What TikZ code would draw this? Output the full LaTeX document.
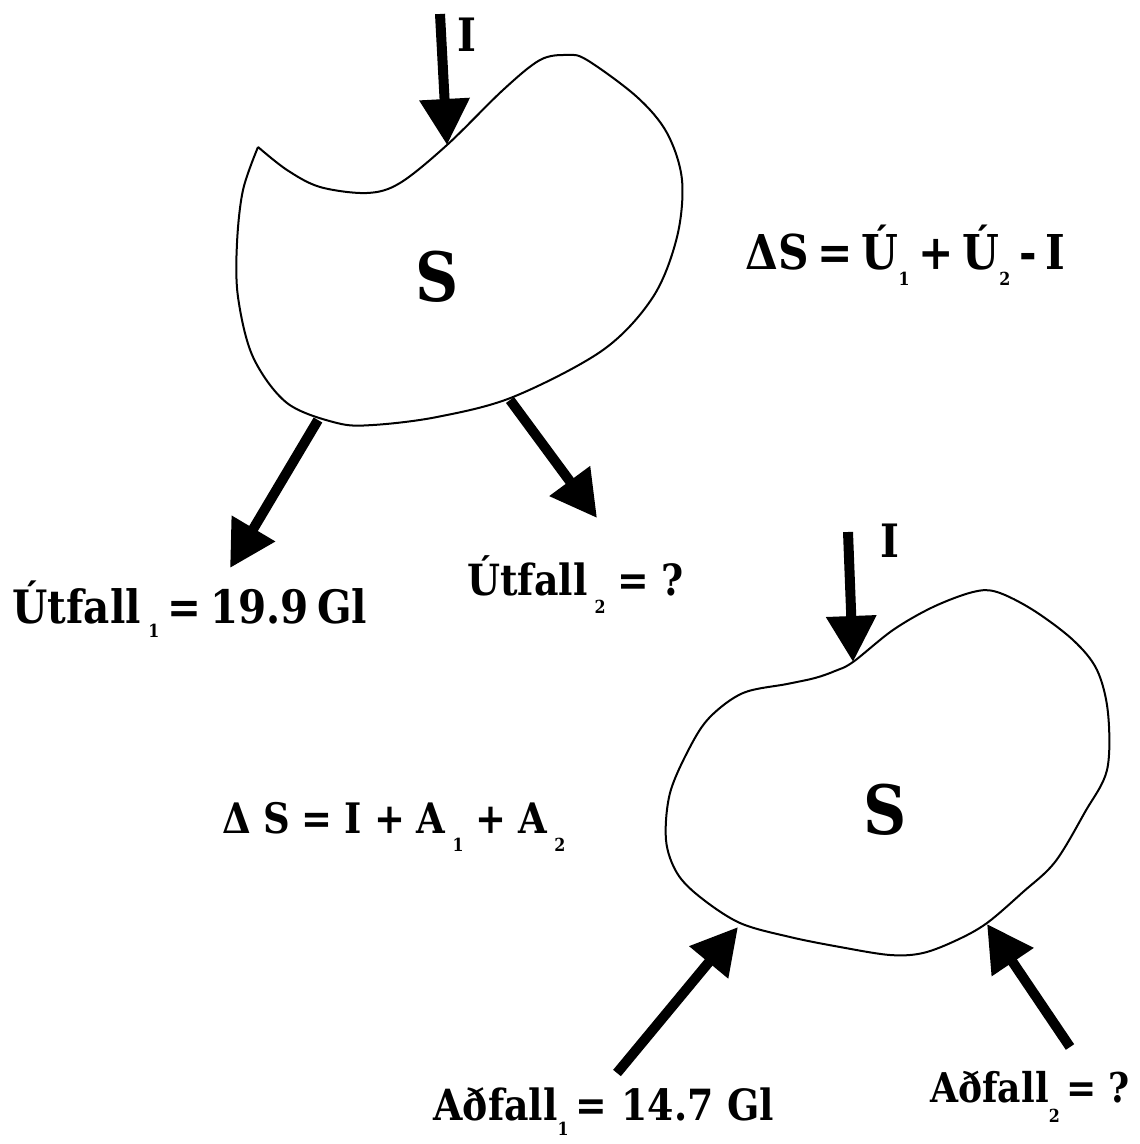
\documentclass[tikz,border=0pt]{standalone}
\usepackage{fontspec}
\setmainfont{DejaVu Serif}[FakeStretch=0.88,WordSpace=0.6]
\usetikzlibrary{arrows.meta}
\newcommand{\lsub}[2]{\raisebox{-#1}{\fontsize{9}{9}\selectfont #2}}

\begin{document}
\begin{tikzpicture}[x=0.5pt,y=-0.5pt,every node/.style={font=\bfseries,inner sep=0pt},flow/.style={line width=5pt,-{Triangle[length=23pt,width=24pt]}},blob/.style={line width=1pt,line join=round},lbl/.style={anchor=base west},wide/.style={execute at begin node={\spaceskip=#1}}]
\useasboundingbox (0,0) rectangle (1139,1144);
% upper store (cusp at top left)
\draw[blob] plot[smooth,tension=0.55] coordinates {(258,147) (287,170) (320,187) (367,193) (400,183) (447,145) (503,90) (540,60) (567,55) (587,60) (637,97) (667,133) (682,180) (677,237) (653,297) (603,350) (513,397) (437,417) (373,425) (337,423) (287,403) (253,357) (238,297) (237,243) (243,190) (258,147)};
\node (s1) at (437,277) {\fontsize{34}{34}\selectfont S};
\coordinate (i1s) at (440,14);\coordinate (i1e) at (447,145);
\coordinate (u1s) at (318,420);\coordinate (u1e) at (230,568);
\coordinate (u2s) at (510,400);\coordinate (u2e) at (597,518);
\draw[flow] (i1s)--(i1e);\draw[flow] (u1s)--(u1e);\draw[flow] (u2s)--(u2e);
\node (i1) at (467,35) {\fontsize{23}{23}\selectfont I};
\node[lbl] (u1) at (12,623) {\fontsize{23}{23}\selectfont Útfall\,\lsub{7pt}{1} = 19.9 Gl};
\node[lbl,wide=6pt] (u2) at (467,595) {\fontsize{21.5}{21.5}\selectfont Útfall\,\lsub{9pt}{2} = ?};
\node[lbl] (eq1) at (745,270) {\fontsize{24}{24}\selectfont ΔS = Ú\lsub{8pt}{1} + Ú\lsub{8pt}{2} - I};
% lower store
\draw[blob] plot[smooth cycle,tension=0.55] coordinates {(853,662) (893,630) (933,607) (973,592) (997,592) (1033,610) (1073,640) (1097,670) (1108,713) (1107,770) (1085,812) (1055,862) (1023,892) (987,923) (957,940) (923,953) (890,955) (840,947) (790,937) (740,923) (700,897) (677,873) (666,840) (670,793) (690,747) (710,717) (743,693) (787,684) (815,678) (835,671)};
\node (s2) at (885,810) {\fontsize{34}{34}\selectfont S};
\coordinate (i2s) at (848,532);\coordinate (i2e) at (853,662);
\coordinate (a1s) at (617,1073);\coordinate (a1e) at (738,927);
\coordinate (a2s) at (1070,1047);\coordinate (a2e) at (987,924);
\draw[flow] (i2s)--(i2e);\draw[flow] (a1s)--(a1e);\draw[flow] (a2s)--(a2e);
\node (i2) at (890,541) {\fontsize{23}{23}\selectfont I};
\node[lbl,wide=6pt] (eq2) at (222,833) {\fontsize{21}{21}\selectfont Δ S = I + A\,\lsub{9pt}{1} + A\,\lsub{9pt}{2}};
\node[lbl,wide=7pt] (a1) at (433,1120) {\fontsize{21.5}{21.5}\selectfont Aðfall\lsub{7.5pt}{1}\,= 14.7 Gl};
\node[lbl,wide=6pt] (a2) at (930,1102) {\fontsize{20.5}{20.5}\selectfont Aðfall\lsub{10pt}{2}\,= ?};
\end{tikzpicture}
\end{document}
